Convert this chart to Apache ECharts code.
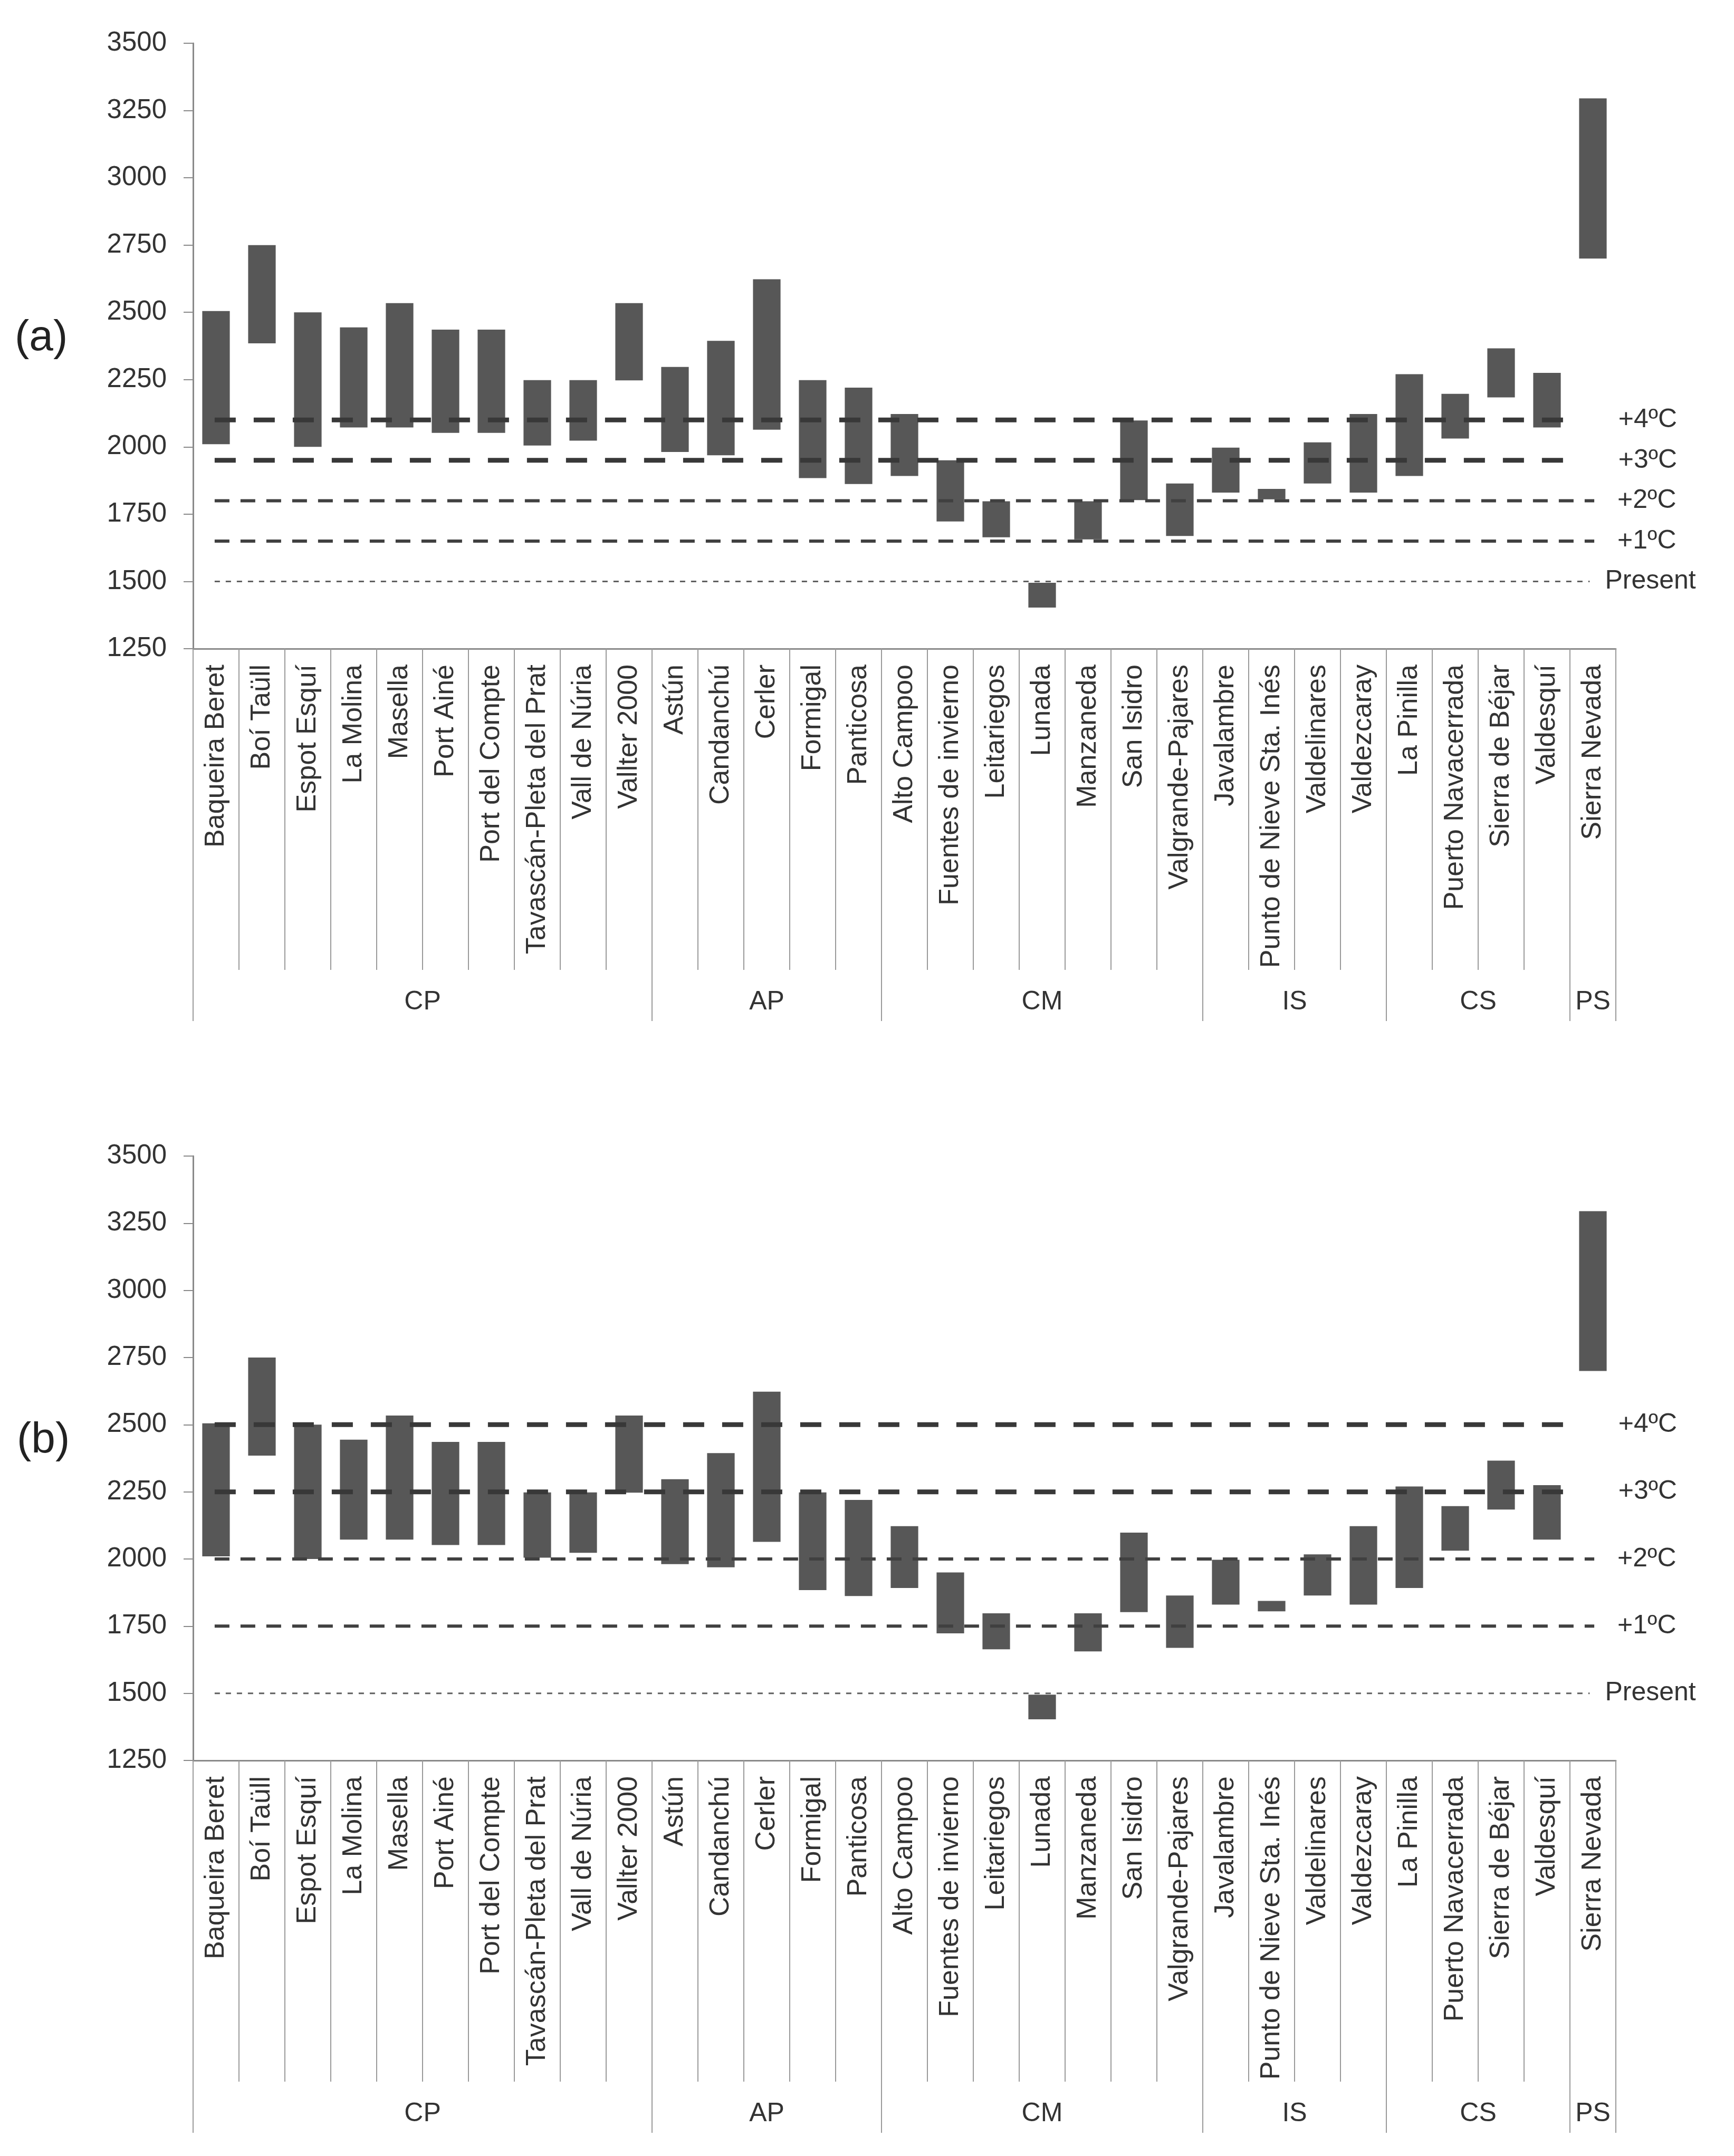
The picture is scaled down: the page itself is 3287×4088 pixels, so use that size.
<!DOCTYPE html>
<html>
<head>
<meta charset="utf-8">
<script src="https://cdn.jsdelivr.net/npm/echarts@6/dist/echarts.min.js"></script>
<style>html,body{margin:0;padding:0;background:#fff;}#c{width:3287px;height:4088px;}</style>
</head>
<body>
<div id="c"></div>
<script>
const names = ['Baqueira Beret','Boí Taüll','Espot Esquí','La Molina','Masella','Port Ainé','Port del Compte','Tavascán-Pleta del Prat','Vall de Núria','Vallter 2000',
  'Astún','Candanchú','Cerler','Formigal','Panticosa',
  'Alto Campoo','Fuentes de invierno','Leitariegos','Lunada','Manzaneda','San Isidro','Valgrande-Pajares',
  'Javalambre','Punto de Nieve Sta. Inés','Valdelinares','Valdezcaray',
  'La Pinilla','Puerto Navacerrada','Sierra de Béjar','Valdesquí',
  'Sierra Nevada'];
const groups = ['CP','AP','CM','IS','CS','PS'];
const groupSizes = [10,5,7,4,4,1];
const low  = [2010,2385,2000,2072,2072,2052,2052,2005,2023,2247,1981,1969,2064,1884,1862,1892,1723,1664,1403,1656,1802,1669,1830,1805,1864,1830,1892,2031,2184,2072,2700];
const high = [2505,2750,2500,2444,2534,2436,2436,2248,2248,2534,2297,2394,2623,2248,2220,2122,1950,1798,1495,1798,2098,1864,1997,1844,2017,2122,2270,2197,2366,2275,3295];
const refLabels = ['+4ºC','+3ºC','+2ºC','+1ºC','Present'];
const refA = [2100,1950,1800,1650,1500];
const refB = [2500,2250,2000,1750,1500];
const yTicks = [1250,1500,1750,2000,2250,2500,2750,3000,3250,3500];
const panelLabels = ['(a)','(b)'];

const FONT = "'Liberation Sans', Arial, sans-serif";
const TXT = '#333333';
const AX = '#8a8a8a';
const BAR = '#575757';

const groupStarts = [];
const groupCentres = {};
let acc = 0;
groupSizes.forEach((s, i) => { groupStarts.push(acc); groupCentres[(acc + s / 2).toFixed(1)] = groups[i]; acc += s; });

const refStyle = [
  {w: 9, dash: [40, 34], color: '#383838', x1: 30.1, dist: 83},
  {w: 9, dash: [40, 34], color: '#383838', x1: 30.1, dist: 83},
  {w: 6, dash: [28, 21], color: '#404040', x1: 30.53, dist: 44},
  {w: 6, dash: [28, 21], color: '#404040', x1: 30.53, dist: 44},
  {w: 3, dash: [10, 11], color: '#606060', x1: 30.43, dist: 29}
];
const X0 = 0.47;

const grids = [
  {left: 366, right: 224, top: 82, height: 1148, outerBoundsMode: 'none', containLabel: false},
  {left: 366, right: 224, top: 2192, height: 1146, outerBoundsMode: 'none', containLabel: false}
];

const xAxis = [], yAxis = [], series = [];
[refA, refB].forEach((refs, g) => {
  const xi = g * 3;
  xAxis.push({
    type: 'category', gridIndex: g, data: names, position: 'bottom',
    axisLine: {show: true, lineStyle: {color: AX, width: 3}},
    axisTick: {show: true, length: 609, interval: 0, lineStyle: {color: '#9a9a9a', width: 2}},
    axisLabel: {show: true, interval: 0, rotate: 90, margin: 30, fontSize: 52, fontFamily: FONT, color: TXT}
  });
  xAxis.push({
    type: 'category', gridIndex: g, data: names, position: 'bottom',
    axisLine: {show: false},
    axisTick: {show: true, length: 706, interval: (idx) => groupStarts.indexOf(idx) >= 0, lineStyle: {color: '#9a9a9a', width: 2}},
    axisLabel: {show: false}
  });
  xAxis.push({
    type: 'value', gridIndex: g, min: 0, max: names.length, interval: 0.5, position: 'bottom',
    axisLine: {show: false}, axisTick: {show: false}, splitLine: {show: false},
    axisLabel: {show: true, margin: 645, fontSize: 50, fontFamily: FONT, color: TXT,
      formatter: (v) => groupCentres[Number(v).toFixed(1)] || ''}
  });
  yAxis.push({
    type: 'value', gridIndex: g, min: yTicks[0], max: yTicks[yTicks.length - 1], interval: 250,
    axisLine: {show: true, lineStyle: {color: AX, width: 3}},
    axisTick: {show: true, length: 18, lineStyle: {color: AX, width: 2}},
    splitLine: {show: false},
    axisLabel: {margin: 50, fontSize: 51, fontFamily: FONT, color: TXT, formatter: (v) => String(v)}
  });
  series.push({
    type: 'bar', xAxisIndex: xi, yAxisIndex: g, stack: 'r' + g, barWidth: '60%',
    itemStyle: {color: 'rgba(0,0,0,0)'}, silent: true, data: low
  });
  series.push({
    type: 'bar', xAxisIndex: xi, yAxisIndex: g, stack: 'r' + g, barWidth: '60%',
    itemStyle: {color: BAR}, silent: true, data: high.map((h, i) => h - low[i])
  });
  refs.forEach((v, k) => {
    const st = refStyle[k];
    series.push({
      type: 'line', name: refLabels[k], xAxisIndex: xi + 2, yAxisIndex: g, z: 5,
      symbol: 'none', silent: true, animation: false,
      lineStyle: {color: st.color, width: st.w, type: st.dash, cap: 'butt'},
      endLabel: {show: true, formatter: refLabels[k], distance: st.dist, fontSize: 50, fontFamily: FONT, color: TXT},
      data: [[X0, v], [st.x1, v]]
    });
  });
});

const chart = echarts.init(document.getElementById('c'), null, {renderer: 'canvas'});
chart.setOption({
  backgroundColor: '#fff',
  animation: false,
  grid: grids,
  xAxis: xAxis,
  yAxis: yAxis,
  series: series,
  graphic: [
    {type: 'text', left: 28, top: 600, style: {text: panelLabels[0], fontSize: 82, fontFamily: FONT, fill: '#222'}},
    {type: 'text', left: 32, top: 2690, style: {text: panelLabels[1], fontSize: 82, fontFamily: FONT, fill: '#222'}}
  ]
});
</script>
</body>
</html>
